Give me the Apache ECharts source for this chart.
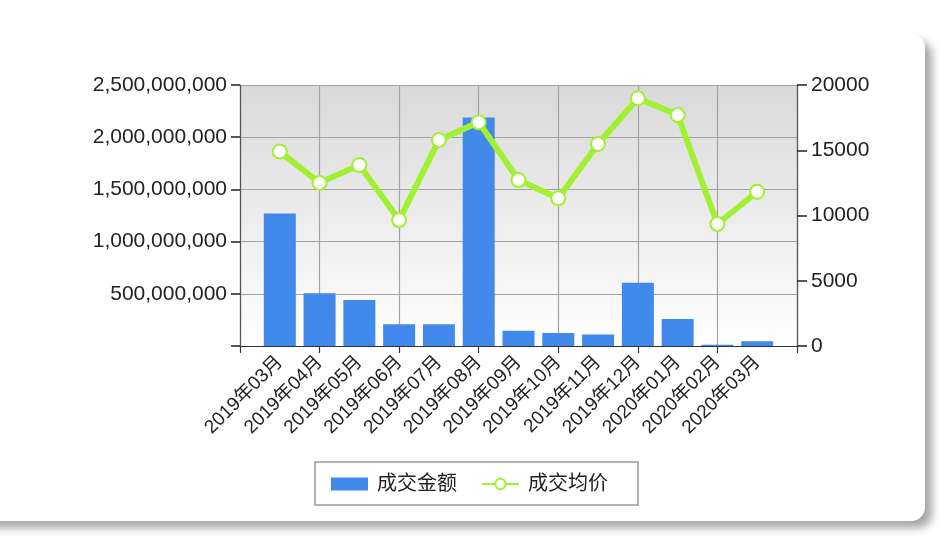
<!DOCTYPE html>
<html>
<head>
<meta charset="utf-8">
<script src="https://cdn.jsdelivr.net/npm/echarts@6/dist/echarts.min.js"></script>
<style>
html,body{margin:0;padding:0;background:#fff;}
#chart{width:944px;height:537px;}
</style>
</head>
<body>
<div id="chart"></div>
<script>
var months = ['2019年03月','2019年04月','2019年05月','2019年06月','2019年07月','2019年08月','2019年09月','2019年10月','2019年11月','2019年12月','2020年01月','2020年02月','2020年03月'];
var amount = [1270000000, 505000000, 441000000, 209000000, 209000000, 2188000000, 145000000, 125000000, 109000000, 605000000, 258000000, 13000000, 45000000];
var avgPrice = [14900, 12500, 13870, 9650, 15780, 17140, 12720, 11320, 15480, 18980, 17700, 9350, 11820];
var leftTicks = { min: 0, max: 2500000000, interval: 500000000 };
var rightTicks = { min: 0, max: 20000, interval: 5000 };

var axisCats = [''].concat(months, ['']);
var barData = ['-'].concat(amount, ['-']);
var lineData = ['-'].concat(avgPrice, ['-']);

var FONT = '"Liberation Sans", "Noto Sans CJK SC", sans-serif';
var chart = echarts.init(document.getElementById('chart'), null, { renderer: 'canvas' });
var evenOnly = function (i) { return i % 2 === 0; };

chart.setOption({
  animation: false,
  backgroundColor: '#ffffff',
  textStyle: { fontFamily: FONT },
  graphic: [{
    type: 'rect',
    z: -10,
    silent: true,
    shape: { x: -30, y: 34, width: 955, height: 487, r: 14 },
    style: {
      fill: '#ffffff',
      shadowBlur: 8,
      shadowOffsetX: 7,
      shadowOffsetY: 7,
      shadowColor: 'rgba(0,0,0,0.35)'
    }
  }],
  grid: {
    left: 240, right: 147, top: 85, bottom: 191,
    show: true,
    borderWidth: 0,
    backgroundColor: new echarts.graphic.LinearGradient(0, 0, 0, 1, [
      { offset: 0, color: '#d9d9d9' },
      { offset: 1, color: '#ffffff' }
    ])
  },
  legend: {
    left: 315, top: 462,
    padding: [12, 30, 11, 16],
    borderColor: '#9a9a9a',
    borderWidth: 1.5,
    itemWidth: 37,
    itemHeight: 13,
    itemGap: 24,
    textStyle: { fontFamily: FONT, fontSize: 20, color: '#222', padding: [0, 0, 0, 4] },
    data: [
      { name: '成交金额', icon: 'rect' },
      { name: '成交均价' }
    ]
  },
  xAxis: {
    type: 'category',
    data: axisCats,
    boundaryGap: false,
    axisLine: { lineStyle: { color: '#333', width: 1.2 } },
    axisTick: { interval: evenOnly, length: 7, lineStyle: { color: '#333', width: 1.2 } },
    axisLabel: {
      interval: 0, rotate: 45, margin: 13,
      fontFamily: FONT, fontSize: 19, color: '#222'
    },
    splitLine: { show: true, interval: evenOnly, lineStyle: { color: '#a3a3a3', width: 1.2 } }
  },
  yAxis: [{
    type: 'value',
    min: leftTicks.min, max: leftTicks.max, interval: leftTicks.interval,
    axisLine: { show: true, lineStyle: { color: '#555', width: 1.2 } },
    axisTick: { show: true, length: 9, lineStyle: { color: '#222', width: 1.5 } },
    axisLabel: {
      margin: 13, fontFamily: FONT, fontSize: 21, color: '#222',
      formatter: function (v) { return v === 0 ? '' : v.toLocaleString('en-US'); }
    },
    splitLine: { show: true, lineStyle: { color: '#a3a3a3', width: 1.2 } }
  }, {
    type: 'value',
    position: 'right',
    min: rightTicks.min, max: rightTicks.max, interval: rightTicks.interval,
    axisLine: { show: true, lineStyle: { color: '#555', width: 1.2 } },
    axisTick: { show: true, length: 10, lineStyle: { color: '#222', width: 1.5 } },
    axisLabel: {
      margin: 14, fontFamily: FONT, fontSize: 21, color: '#222',
      formatter: function (v) { return String(v); }
    },
    splitLine: { show: false }
  }],
  series: [{
    name: '成交金额',
    type: 'bar',
    yAxisIndex: 0,
    data: barData,
    barWidth: 32,
    itemStyle: { color: '#4189ea' }
  }, {
    name: '成交均价',
    type: 'line',
    yAxisIndex: 1,
    data: lineData,
    symbol: 'circle',
    symbolSize: 14,
    showAllSymbol: true,
    lineStyle: { color: '#a2f034', width: 6 },
    itemStyle: { color: '#ffffff', borderColor: '#a2f034', borderWidth: 2 },
    z: 5
  }]
});
</script>
</body>
</html>
